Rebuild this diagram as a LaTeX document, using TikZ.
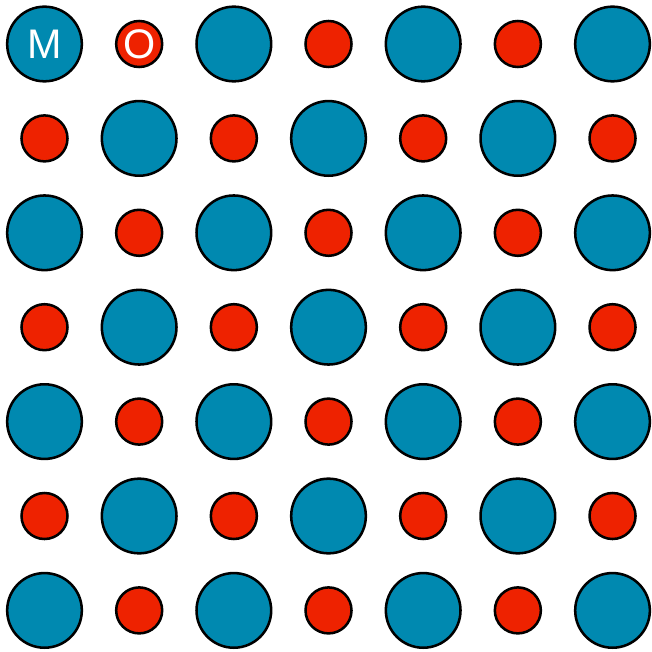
\documentclass[tikz,border=0pt]{standalone}
\usepackage{fontspec}
\setmainfont{Liberation Sans}
\definecolor{metalblue}{HTML}{0089B0}
\definecolor{oxred}{HTML}{EE2200}
\tikzset{
  metal/.style={circle, draw=black, line width=1.9pt, fill=metalblue, minimum size=56pt, inner sep=0pt},
  oxygen/.style={circle, draw=black, line width=1.9pt, fill=oxred, minimum size=34.5pt, inner sep=0pt},
  sitelabel/.style={text=white, font=\fontsize{31}{31}\selectfont},
}
\begin{document}
\begin{tikzpicture}[x=0.75pt,y=-0.75pt]
\useasboundingbox (0,0) rectangle (651,652);
% lattice of metal and oxygen sites
\foreach \i in {0,...,6}{
  \foreach \j in {0,...,6}{
    \pgfmathtruncatemacro{\siteparity}{mod(\i+\j,2)}
    \ifnum\siteparity=0
      \node[metal] (s-\i-\j) at (44.5+94.67*\i, 44+94.4*\j) {};
    \else
      \node[oxygen] (s-\i-\j) at (44.5+94.67*\i, 44+94.4*\j) {};
    \fi
  }
}
% labels
\node[sitelabel] (mlabel) at (s-0-0) {M};
\node[sitelabel] (olabel) at (s-1-0) {O};
\end{tikzpicture}
\end{document}
